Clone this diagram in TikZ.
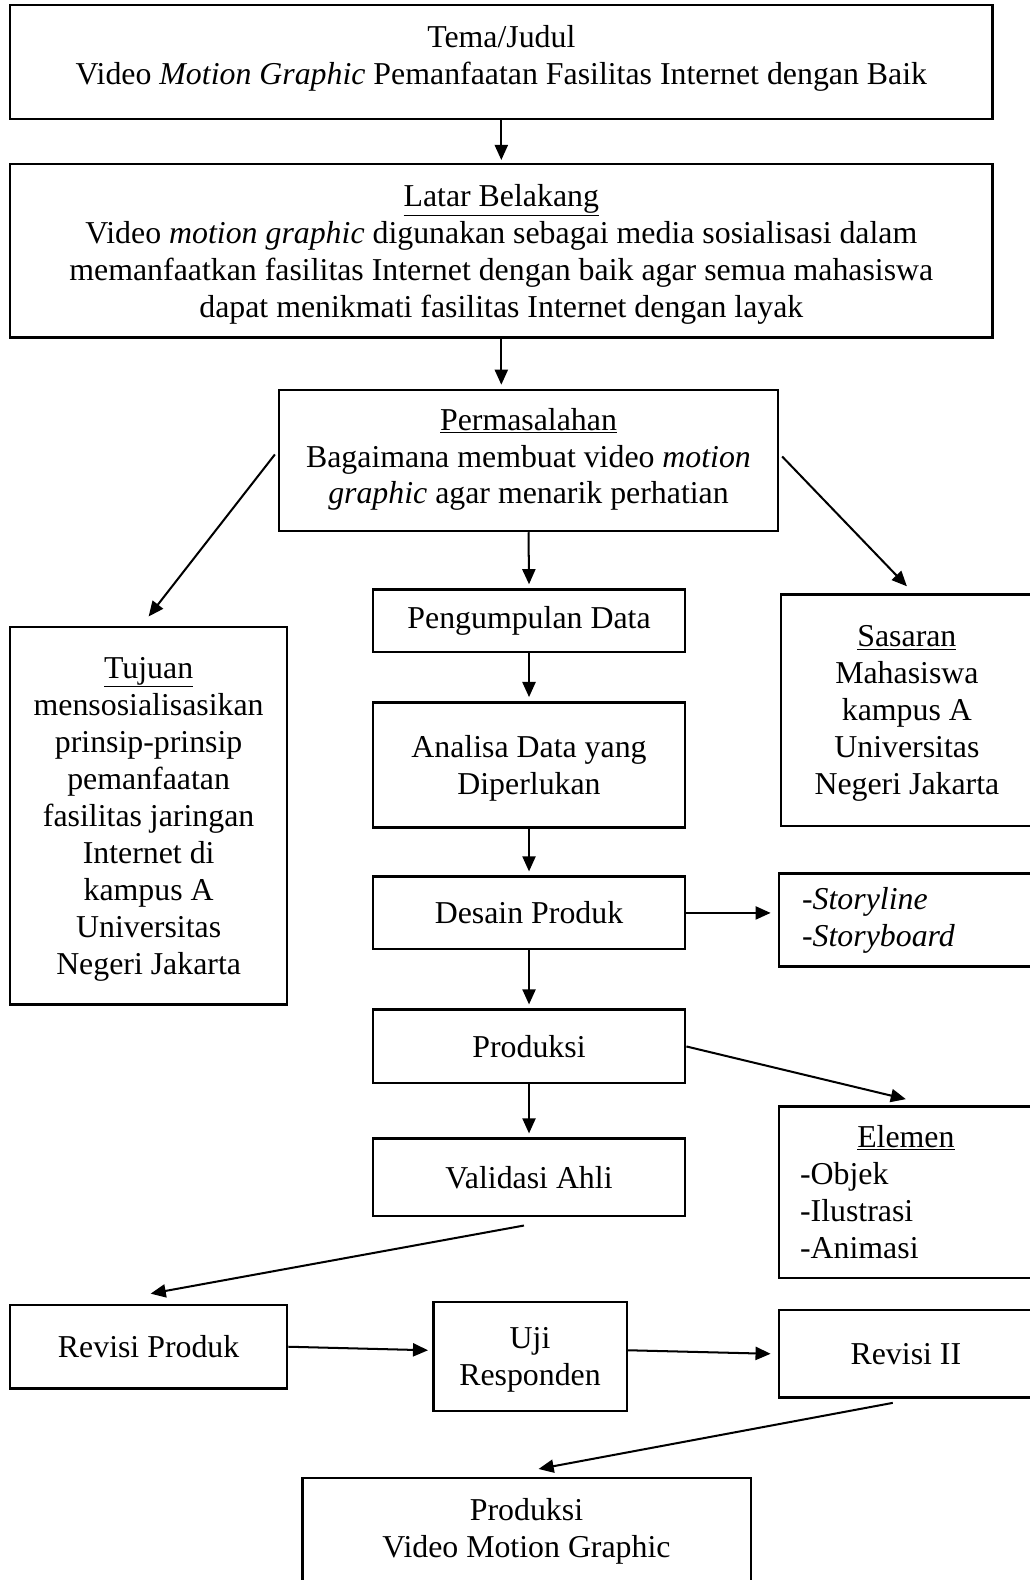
\documentclass[tikz,border=0pt]{standalone}
\usepackage{fontspec}
\setmainfont{Liberation Serif}
\usetikzlibrary{arrows.meta}

\begin{document}
\begin{tikzpicture} [
	x=1pt,y=-1pt,
	blok/.style={
		rectangle,draw=black,line width=2.4pt,
		inner sep=0pt,align=center,
		font=\fontsize{31.6}{36.7}\selectfont},
	daftar/.style={
		blok,align=left},
	tip/.style={
		-{Triangle[length=15pt,width=13pt]},line width=2pt}]
\useasboundingbox (0,0) rectangle (1022,1568);
\clip (0,0) rectangle (1022,1568);
\node [blok,minimum width=975pt,minimum height=113pt,text depth=13pt]	(tema) at (497.5,61.5)	{Tema/Judul\\Video \textit{Motion Graphic} Pemanfaatan Fasilitas Internet dengan Baik};
\node [blok,minimum width=975pt,minimum height=172pt,text depth=-8pt]	(latar) at (497.5,249)	{\underline{Latar Belakang}\\Video \textit{motion graphic} digunakan sebagai media sosialisasi dalam\\memanfaatkan fasilitas Internet dengan baik agar semua mahasiswa\\dapat menikmati fasilitas Internet dengan layak};
\node [blok,minimum width=495pt,minimum height=140pt,text depth=9pt]	(permasalahan) at (524.5,457)	{\underline{Permasalahan}\\Bagaimana membuat video \textit{motion}\\\textit{graphic} agar menarik perhatian};
\node [blok,minimum width=275pt,minimum height=375pt,text depth=-1pt]	(tujuan) at (147.5,809.5)	{\underline{Tujuan}\\mensosialisasikan\\prinsip-prinsip\\pemanfaatan\\fasilitas jaringan\\Internet di\\kampus A\\Universitas\\Negeri Jakarta};
\node [blok,minimum width=250pt,minimum height=230pt,text depth=-1pt]	(sasaran) at (900,705)	{\underline{Sasaran}\\Mahasiswa\\kampus A\\Universitas\\Negeri Jakarta};
\node [blok,minimum width=310pt,minimum height=62pt]	(pengumpulan data) at (525,616)	{Pengumpulan Data};
\node [blok,minimum width=310pt,minimum height=124pt,text depth=-3pt]	(analisa data) at (525,759)	{Analisa Data yang\\Diperlukan};
\node [blok,minimum width=310pt,minimum height=72pt]	(desain produk) at (525,906)	{Desain Produk};
\node [daftar,minimum width=252pt,minimum height=92pt,text width=206pt]	(story) at (899,913)	{-\textit{Storyline}\\-\textit{Storyboard}};
\node [blok,minimum width=310pt,minimum height=73pt]	(produksi) at (525,1038.5)	{Produksi};
\node [blok,minimum width=310pt,minimum height=77pt]	(validasi ahli) at (525,1168.5)	{Validasi Ahli};
\node [daftar,minimum width=252pt,minimum height=170pt,text width=210pt]	(elemen) at (899,1183)	{\makebox[210pt]{\underline{Elemen}}\\-Objek\\-Ilustrasi\\-Animasi};
\node [blok,minimum width=275pt,minimum height=83pt]	(revisi produk) at (147.5,1336.5)	{Revisi Produk};
\node [blok,minimum width=192pt,minimum height=108pt,text depth=-1pt]	(uji responden) at (526,1346)	{Uji\\Responden};
\node [blok,minimum width=252pt,minimum height=87pt]	(revisi dua) at (899,1343.5)	{Revisi II};
\node [blok,minimum width=445pt,minimum height=133pt,text depth=35pt]	(produksi video) at (522.5,1533.5)	{Produksi\\Video Motion Graphic};
\draw[tip] (tema.south) -- ([yshift=3pt]latar.north);
\draw[tip] (latar.south) -- ([yshift=4pt]latar.south |- permasalahan.north);
\draw[tip] ([xshift=-3pt,yshift=6pt]permasalahan.west) -- ([yshift=9pt]tujuan.north);
\draw[tip] ([xshift=3pt,yshift=4pt]permasalahan.east) -- ([yshift=7pt]sasaran.north);
\draw[tip] (permasalahan.south) -- ([yshift=4pt]pengumpulan data.north);
\draw[tip] (pengumpulan data.south) -- ([yshift=4pt]analisa data.north);
\draw[tip] (analisa data.south) -- ([yshift=4pt]desain produk.north);
\draw[tip] (desain produk.south) -- ([yshift=4pt]produksi.north);
\draw[tip] (produksi.south) -- ([yshift=4pt]validasi ahli.north);
\draw[tip] (desain produk.east) -- ([xshift=-7pt]desain produk.east -| story.west);
\draw[tip] (produksi.east) -- ([yshift=6pt]elemen.north);
\draw[tip] ([xshift=-5pt,yshift=-8pt]validasi ahli.south) -- ([xshift=2pt,yshift=10pt]revisi produk.north);
\draw[tip] (revisi produk.east) -- ([xshift=-4pt,yshift=6pt]uji responden.west);
\draw[tip] ([yshift=6pt]uji responden.east) -- ([xshift=-7pt]revisi dua.west);
\draw[tip] ([xshift=-13pt,yshift=-4pt]revisi dua.south) -- ([xshift=12pt,yshift=8pt]produksi video.north);
\end{tikzpicture}
\end{document}
